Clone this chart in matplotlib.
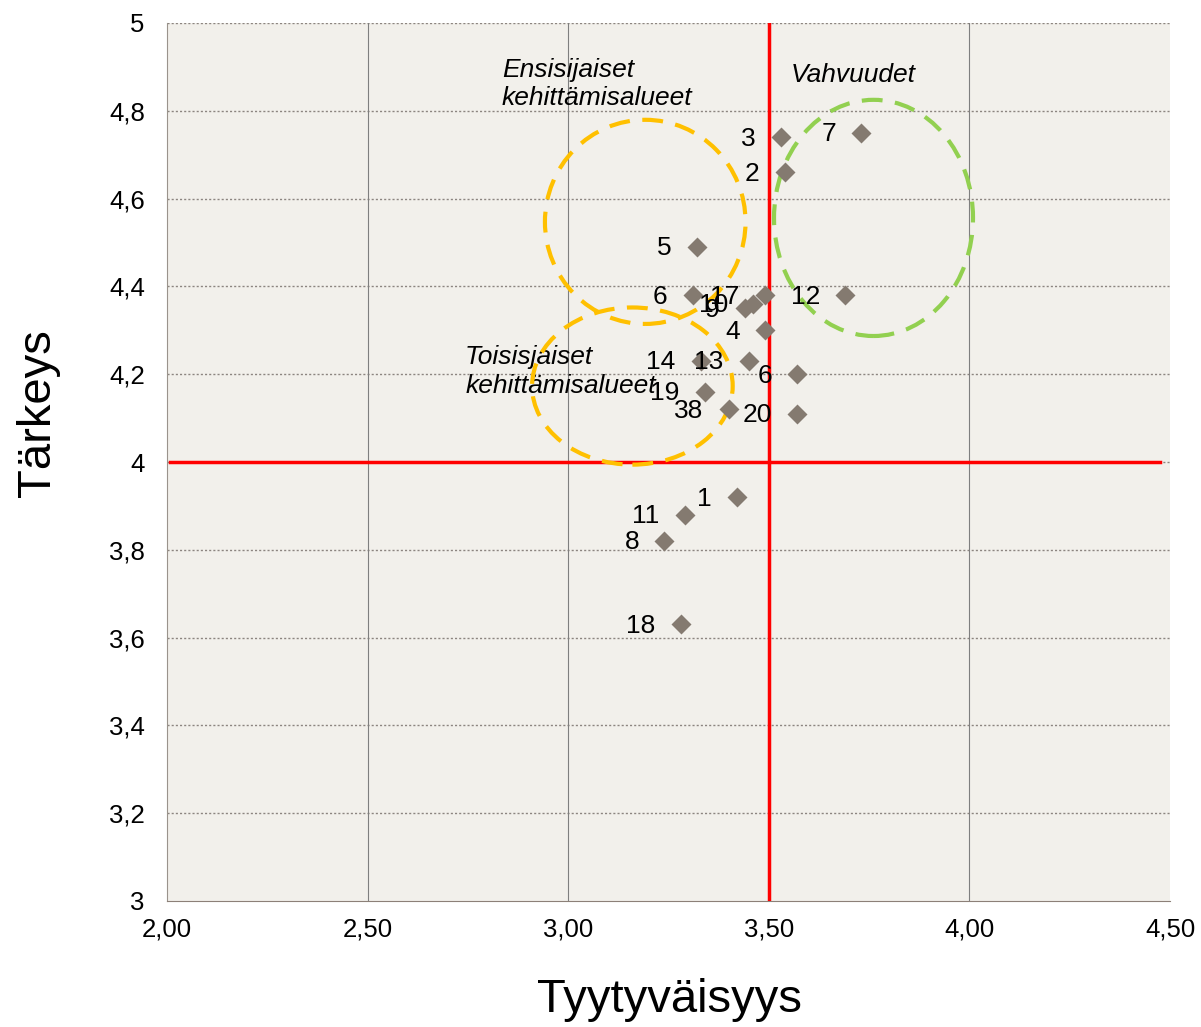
import matplotlib.pyplot as plt
from matplotlib.patches import Ellipse

plt.rcParams['font.family'] = ['Liberation Sans', 'DejaVu Sans']

# item number, satisfaction (x), importance (y)
labels = ["1", "2", "3", "4", "5", "6", "6", "7", "8", "9", "10", "11",
          "12", "13", "14", "17", "18", "19", "20", "38"]
satisfaction = [3.42, 3.54, 3.53, 3.49, 3.32, 3.31, 3.57, 3.73, 3.24, 3.44,
                3.46, 3.29, 3.69, 3.45, 3.33, 3.49, 3.28, 3.34, 3.57, 3.40]
importance = [3.92, 4.66, 4.74, 4.30, 4.49, 4.38, 4.20, 4.75, 3.82, 4.35,
              4.36, 3.88, 4.38, 4.23, 4.23, 4.38, 3.63, 4.16, 4.11, 4.12]

x_ticks = [2.0, 2.5, 3.0, 3.5, 4.0, 4.5]
x_tick_labels = ["2,00", "2,50", "3,00", "3,50", "4,00", "4,50"]
y_ticks = [3.0, 3.2, 3.4, 3.6, 3.8, 4.0, 4.2, 4.4, 4.6, 4.8, 5.0]
y_tick_labels = ["3", "3,2", "3,4", "3,6", "3,8", "4", "4,2", "4,4", "4,6", "4,8", "5"]

W, H = 1201, 1027
fig = plt.figure(figsize=(W / 100, H / 100), dpi=100)
ax = fig.add_axes([167 / W, 1 - 901 / H, (1170 - 167) / W, (901 - 23) / H])
ax.set_facecolor('#F2F0EB')

ax.set_xlim(2.0, 4.5)
ax.set_ylim(3.0, 5.0)

# grid
for y in y_ticks[1:]:
    ax.axhline(y, color='#8C8580', lw=1, ls=(0, (1.5, 1.5)), zorder=1)
for x in [2.5, 3.0, 4.0]:
    ax.axvline(x, color='#7F7F7F', lw=0.8, zorder=1)

for side in ['top', 'right']:
    ax.spines[side].set_visible(False)
ax.spines['left'].set_color('#9A938C')
ax.spines['bottom'].set_color('#8C8078')

ax.set_xticks(x_ticks)
ax.set_xticklabels(x_tick_labels, fontsize=18.5)
ax.set_yticks(y_ticks)
ax.set_yticklabels(y_tick_labels, fontsize=18.5)
ax.tick_params(length=0)
ax.tick_params(axis='y', pad=16)
ax.tick_params(axis='x', pad=12)

# quadrant lines
ax.axvline(3.5, color='#FF0000', lw=2.5, zorder=3)
ax.axhline(4.0, xmin=0.003, xmax=0.99, color='#FF0000', lw=2.5, zorder=3)

# highlight circles
dash = (0, (5, 3))
ax.add_patch(Ellipse((3.192, 4.547), 0.50, 0.465, fill=False, ec='#FFC000',
                     lw=3, ls=dash, zorder=4))
ax.add_patch(Ellipse((3.16, 4.173), 0.50, 0.358, fill=False, ec='#FFC000',
                     lw=3, ls=dash, zorder=4))
ax.add_patch(Ellipse((3.761, 4.556), 0.496, 0.538, fill=False, ec='#92D050',
                     lw=3, ls=dash, zorder=4))

ax.plot(satisfaction, importance, 'D', ms=10, color='#847A70', mec='none',
        zorder=5, clip_on=False)

for lab, x, y in zip(labels, satisfaction, importance):
    ax.annotate(lab, (x, y), xytext=(-18, -1), textcoords='offset points',
                ha='right', va='center', fontsize=19, zorder=6)

ax.text(2.835, 4.861, "Ensisijaiset\nkehittämisalueet", fontsize=19,
        style='italic', ha='left', va='center', linespacing=1.25)
ax.text(3.555, 4.882, "Vahvuudet", fontsize=19, style='italic',
        ha='left', va='center')
ax.text(2.743, 4.207, "Toisisjaiset\nkehittämisalueet", fontsize=19,
        style='italic', ha='left', va='center', linespacing=1.25)

fig.text(670 / W, 1 - 1000 / H, "Tyytyväisyys", fontsize=34,
         ha='center', va='center')
fig.text(38 / W, 1 - 413 / H, "Tärkeys", fontsize=34, rotation=90,
         ha='center', va='center')

fig.savefig('out.png', dpi=100, facecolor='white')
